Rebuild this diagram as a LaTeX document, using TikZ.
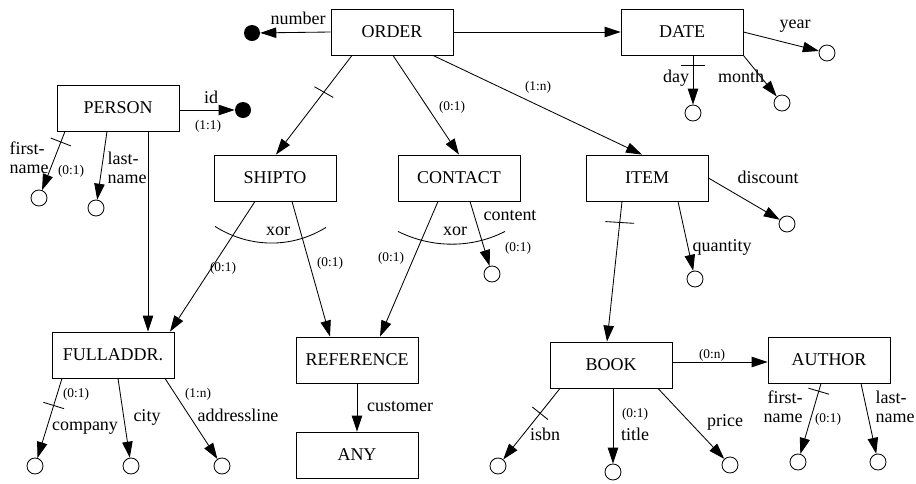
\documentclass[tikz,border=0pt]{standalone}
\usepackage{fontspec}
\setmainfont{Liberation Serif}
\usetikzlibrary{arrows.meta,calc}
\tikzset{
  entity/.style={draw, line width=0.6pt, minimum width=30.5mm, minimum height=11.5mm, inner sep=0pt, font=\fontsize{12.8}{15}\selectfont},
  leaf/.style={circle, draw, line width=0.6pt, minimum size=4mm, inner sep=0pt},
  keyleaf/.style={circle, fill, minimum size=4mm, inner sep=0pt},
  lbl/.style={inner sep=0pt, text height=0.7em, text depth=0.2em, font=\fontsize{12.8}{15}\selectfont},
  lbltwo/.style={inner sep=0pt, font=\fontsize{12.8}{13.5}\selectfont},
  card/.style={inner sep=0pt, text height=0.7em, text depth=0.25em, font=\fontsize{9.5}{11}\selectfont},
  rel/.style={->, line width=0.6pt},
  bar/.style={line width=0.6pt},
}

\begin{document}
\begin{tikzpicture}[x=0.25mm, y=-0.25mm, >={Triangle[length=4mm, width=2.6mm]}]
  \useasboundingbox (0,0) rectangle (916,483);

  % entities
  \node[entity] (order) at (392,32) {ORDER};
  \node[entity] (date) at (682,32) {DATE};
  \node[entity] (person) at (118,108) {PERSON};
  \node[entity] (shipto) at (275,178) {SHIPTO};
  \node[entity] (contact) at (459,178) {CONTACT};
  \node[entity] (item) at (647,178) {ITEM};
  \node[entity] (fulladdr) at (113,355) {FULLADDR.};
  \node[entity] (reference) at (357,360) {REFERENCE};
  \node[entity] (any) at (357,455) {ANY};
  \node[entity] (book) at (611,365) {BOOK};
  \node[entity] (author) at (829,360) {AUTHOR};

  % leaves
  \node[keyleaf] (numkey) at (252,33) {};
  \node[keyleaf] (idkey) at (243,110) {};
  \node[leaf] (yearleaf) at (827,53) {};
  \node[leaf] (monthleaf) at (782,103) {};
  \node[leaf] (dayleaf) at (693,113) {};
  \node[leaf] (pfirst) at (39,198) {};
  \node[leaf] (plast) at (96,208) {};
  \node[leaf] (contentleaf) at (492,274) {};
  \node[leaf] (discleaf) at (787,224) {};
  \node[leaf] (qtyleaf) at (695,279) {};
  \node[leaf] (compleaf) at (35,466) {};
  \node[leaf] (cityleaf) at (131,466) {};
  \node[leaf] (lineleaf) at (222,466) {};
  \node[leaf] (isbnleaf) at (498,466) {};
  \node[leaf] (titleleaf) at (613,472) {};
  \node[leaf] (priceleaf) at (730,465) {};
  \node[leaf] (afirst) at (798,462) {};
  \node[leaf] (alast) at (878,462) {};

  % ORDER
  \draw[rel] (order.west) -- (numkey);
  \draw[rel] (order.east) -- (date.west);
  \draw[rel] ($(order.south)+(-40,0)$) -- coordinate[pos=0.37] (tshipto) ($(shipto.north)+(1,0)$);
  \draw[rel] ($(order.south)+(1,0)$) -- (contact.north);
  \draw[rel] ($(order.south)+(41,0)$) -- ($(item.north)+(-5,0)$);

  % DATE
  \draw[rel] (date.east) -- (yearleaf);
  \draw[rel] (date.south east) -- (monthleaf);
  \draw[rel] ($(date.south)+(11,0)$) -- coordinate[pos=0.2] (tday) (dayleaf);

  % PERSON
  \draw[rel] ($(person.east)+(0,2)$) -- (idkey);
  \draw[rel] ($(person.south)+(-53,0)$) -- coordinate[pos=0.18] (tpfirst) (pfirst);
  \draw[rel] ($(person.south)+(-11,0)$) -- (plast);
  \draw[rel] ($(person.south)+(30,0)$) -- ($(fulladdr.north)+(35,0)$);

  % SHIPTO and CONTACT
  \draw[rel] ($(shipto.south)+(-20,0)$) -- ($(fulladdr.north)+(57,0)$);
  \draw[rel] ($(shipto.south)+(17,0)$) -- ($(reference.north)+(-27,0)$);
  \draw[rel] ($(contact.south)+(-21,0)$) -- ($(reference.north)+(23,0)$);
  \draw[rel] ($(contact.south)+(11,0)$) -- (contentleaf);
  \draw[bar] ($(shipto.south)+(-60,25)$) .. controls ($(shipto.south)+(-25,47)$) and ($(shipto.south)+(17,47)$) .. ($(shipto.south)+(51,26)$);
  \draw[bar] ($(contact.south)+(-61,30)$) .. controls ($(contact.south)+(-27,47)$) and ($(contact.south)+(13,47)$) .. ($(contact.south)+(46,30)$);

  % ITEM
  \draw[rel] (item.east) -- (discleaf);
  \draw[rel] ($(item.south)+(31,0)$) -- (qtyleaf);
  \draw[rel] ($(item.south)+(-25,0)$) -- coordinate[pos=0.15] (titem) ($(book.north)+(-4,0)$);

  % FULLADDR. and REFERENCE
  \draw[rel] ($(fulladdr.south)+(-51,0)$) -- coordinate[pos=0.34] (tcomp) (compleaf);
  \draw[rel] ($(fulladdr.south)+(5,0)$) -- (cityleaf);
  \draw[rel] ($(fulladdr.south)+(52,0)$) -- (lineleaf);
  \draw[rel] (reference.south) -- (any.north);

  % BOOK and AUTHOR
  \draw[rel] ($(book.east)+(0,-3)$) -- ($(author.west)+(0,2)$);
  \draw[rel] ($(book.south)+(-51,0)$) -- coordinate[pos=0.35] (tisbn) (isbnleaf);
  \draw[rel] ($(book.south)+(2,0)$) -- (titleleaf);
  \draw[rel] ($(book.south)+(47,0)$) -- (priceleaf);
  \draw[rel] ($(author.south)+(-8,0)$) -- coordinate[pos=0.11] (tafirst) (afirst);
  \draw[rel] ($(author.south)+(32,0)$) -- (alast);

  % key bars
  \draw[bar] ($(tshipto)!2.7mm!90:(shipto)$) -- ($(tshipto)!2.7mm!-90:(shipto)$);
  \draw[bar] ($(tday)!3mm!90:(dayleaf)$) -- ($(tday)!3mm!-90:(dayleaf)$);
  \draw[bar] ($(tpfirst)!2.7mm!90:(pfirst)$) -- ($(tpfirst)!2.7mm!-90:(pfirst)$);
  \draw[bar] ($(titem)!3.6mm!90:(book)$) -- ($(titem)!3.6mm!-90:(book)$);
  \draw[bar] ($(tcomp)!2.7mm!90:(compleaf)$) -- ($(tcomp)!2.7mm!-90:(compleaf)$);
  \draw[bar] ($(tisbn)!2.5mm!90:(isbnleaf)$) -- ($(tisbn)!2.5mm!-90:(isbnleaf)$);
  \draw[bar] ($(tafirst)!2.7mm!90:(afirst)$) -- ($(tafirst)!2.7mm!-90:(afirst)$);

  % labels
  \node[lbl] (lnumber) at (298,21) {number};
  \node[lbl] (lyear) at (795,25) {year};
  \node[lbl] (lday) at (676,79) {day};
  \node[lbl] (lmonth) at (741,79) {month};
  \node[lbl] (lid) at (211,100) {id};
  \node[card] (cid) at (208,126) {(1:1)};
  \node[lbltwo, align=left] (lpfirst) at (29,158) {first-\\name};
  \node[card] (cpfirst) at (71,171) {(0:1)};
  \node[lbltwo, align=left] (lplast) at (127,168) {last-\\name};
  \node[card] (ccontact) at (452,107) {(0:1)};
  \node[card] (citem) at (538,87) {(1:n)};
  \node[lbl] (xorone) at (278,232) {xor};
  \node[lbl] (xortwo) at (455,232) {xor};
  \node[card] (cshipfull) at (223,268) {(0:1)};
  \node[card] (cshipref) at (330,263) {(0:1)};
  \node[card] (ccontref) at (391,258) {(0:1)};
  \node[lbl] (lcontent) at (510,217) {content};
  \node[card] (ccontent) at (518,248) {(0:1)};
  \node[lbl] (ldisc) at (768,180) {discount};
  \node[lbl] (lqty) at (722,248) {quantity};
  \node[card] (ccomp) at (76,394) {(0:1)};
  \node[lbl] (lcomp) at (85,427) {company};
  \node[lbl] (lcity) at (147,418) {city};
  \node[card] (cline) at (198,394) {(1:n)};
  \node[lbl] (lline) at (238,418) {addressline};
  \node[lbl] (lcust) at (400,408) {customer};
  \node[card] (cauthor) at (712,355) {(0:n)};
  \node[lbl] (lisbn) at (545,437) {isbn};
  \node[card] (ctitle) at (635,414) {(0:1)};
  \node[lbl] (ltitle) at (635,437) {title};
  \node[lbl] (lprice) at (725,423) {price};
  \node[lbltwo, align=right] (lafirst) at (783,407) {first-\\name};
  \node[card] (cafirst) at (828,419) {(0:1)};
  \node[lbltwo, align=left] (lalast) at (895,407) {last-\\name};
\end{tikzpicture}
\end{document}
